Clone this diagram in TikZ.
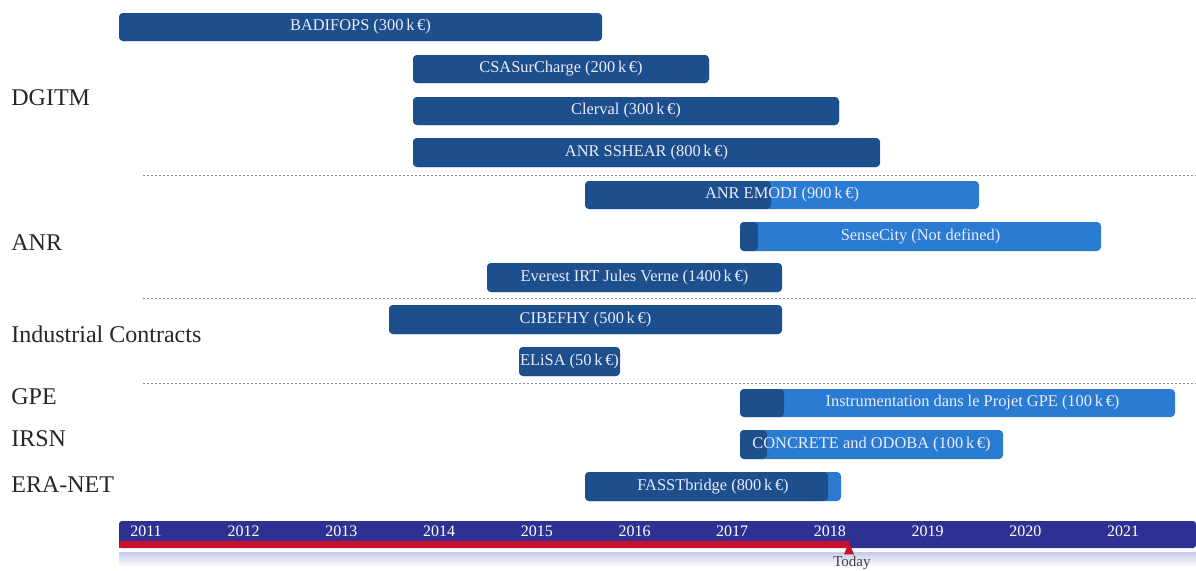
\documentclass[tikz,border=0pt]{standalone}
\usepackage{fontspec}
\setmainfont{Liberation Serif}
\usetikzlibrary{shapes.geometric}
\begin{document}
\begin{tikzpicture}[x=0.5pt,y=-0.5pt,
  barbase/.style={inner sep=0pt, rounded corners=2pt, text=white!92!blue, font=\fontsize{8.2}{9}\selectfont},
  grouplabel/.style={anchor=west, inner sep=0pt, font=\fontsize{12}{14}\selectfont, text=black!85},
  yearlabel/.style={inner sep=0pt, text=white, font=\fontsize{8}{9}\selectfont},
  sep/.style={draw=black!45, dash pattern=on 1pt off 1pt, line width=0.4pt}]
\definecolor{bardark}{HTML}{1C4F8C}
\definecolor{barlight}{HTML}{2A7BD2}
\definecolor{tlblue}{HTML}{2E3192}
\definecolor{tlred}{HTML}{C8102E}
\definecolor{refl}{HTML}{C9CCE8}
\useasboundingbox (0,0) rectangle (1196,570);
\newcommand\projbar[7]{%
  \pgfmathsetmacro\bw{(#3-#2)*0.5}%
  \pgfmathsetmacro\bh{(#5-#4)*0.5}%
  \pgfmathsetmacro\dw{(#6-#2)*0.5}%
  \node[barbase, fill=barlight, minimum width=\bw pt, minimum height=\bh pt,
    path picture={\fill[bardark] (path picture bounding box.north west) rectangle ([xshift=\dw pt]path picture bounding box.south west);}]
    (#1) at ({(#2+#3)/2},{(#4+#5)/2}) {#7};}
% group labels
\node[grouplabel] (dgitm) at (11,98) {DGITM};
\node[grouplabel] (anr) at (11,243) {ANR};
\node[grouplabel] (ind) at (11,334) {Industrial Contracts};
\node[grouplabel] (gpe) at (11,397) {GPE};
\node[grouplabel] (irsn) at (11,439) {IRSN};
\node[grouplabel] (era) at (11,485) {ERA-NET};
% separators
\coordinate (s1a) at (143,175); \coordinate (s1b) at (1196,175);
\coordinate (s2a) at (143,298); \coordinate (s2b) at (1196,298);
\coordinate (s3a) at (143,383); \coordinate (s3b) at (1196,383);
\draw[sep] (s1a) -- (s1b);
\draw[sep] (s2a) -- (s2b);
\draw[sep] (s3a) -- (s3b);
% bars
\projbar{badifops}{119}{602}{13}{41}{602}{BADIFOPS (300\,k\,€)}
\projbar{csa}{413}{709}{55}{83}{709}{CSASurCharge (200\,k\,€)}
\projbar{clerval}{413}{839}{97}{125}{839}{Clerval (300\,k\,€)}
\projbar{sshear}{413}{880}{138}{167}{880}{ANR SSHEAR (800\,k\,€)}
\projbar{emodi}{585}{979}{181}{209}{771}{ANR EMODI (900\,k\,€)}
\projbar{sense}{740}{1101}{222}{251}{758}{SenseCity (Not defined)}
\projbar{everest}{487}{782}{263}{292}{782}{Everest IRT Jules Verne (1400\,k\,€)}
\projbar{cibefhy}{389}{782}{305}{334}{782}{CIBEFHY (500\,k\,€)}
\projbar{elisa}{519}{620}{347}{376}{620}{ELiSA (50\,k\,€)}
\projbar{instr}{740}{1175}{389}{417}{784}{\hspace*{15pt}Instrumentation dans le Projet GPE (100\,k\,€)}
\projbar{concrete}{740}{1003}{430}{459}{767}{CONCRETE and ODOBA (100\,k\,€)}
\projbar{fasst}{585}{841}{472}{501}{828}{FASSTbridge (800\,k\,€)}
% timeline
\shade[top color=refl, bottom color=white] (119,552) rectangle (1196,567);
\node[fill=tlblue, inner sep=0pt, minimum width=538.5pt, minimum height=13.5pt, rounded corners=1.5pt] (tl) at (657.5,534.5) {};
\fill[tlred] (119,541) rectangle (849,547.5);
\node[fill=tlred, isosceles triangle, shape border rotate=90, inner sep=0pt, minimum width=5pt, minimum height=4pt] (mark) at (849,551) {};
\node[inner sep=0pt, font=\fontsize{7.5}{8}\selectfont, text=black!75, anchor=north] (today) at (852,556) {Today};
\foreach \yr [count=\i from 0] in {2011,...,2021}{
  \node[yearlabel] (y\yr) at ({146+97.7*\i},531) {\yr};
}
\end{tikzpicture}
\end{document}
